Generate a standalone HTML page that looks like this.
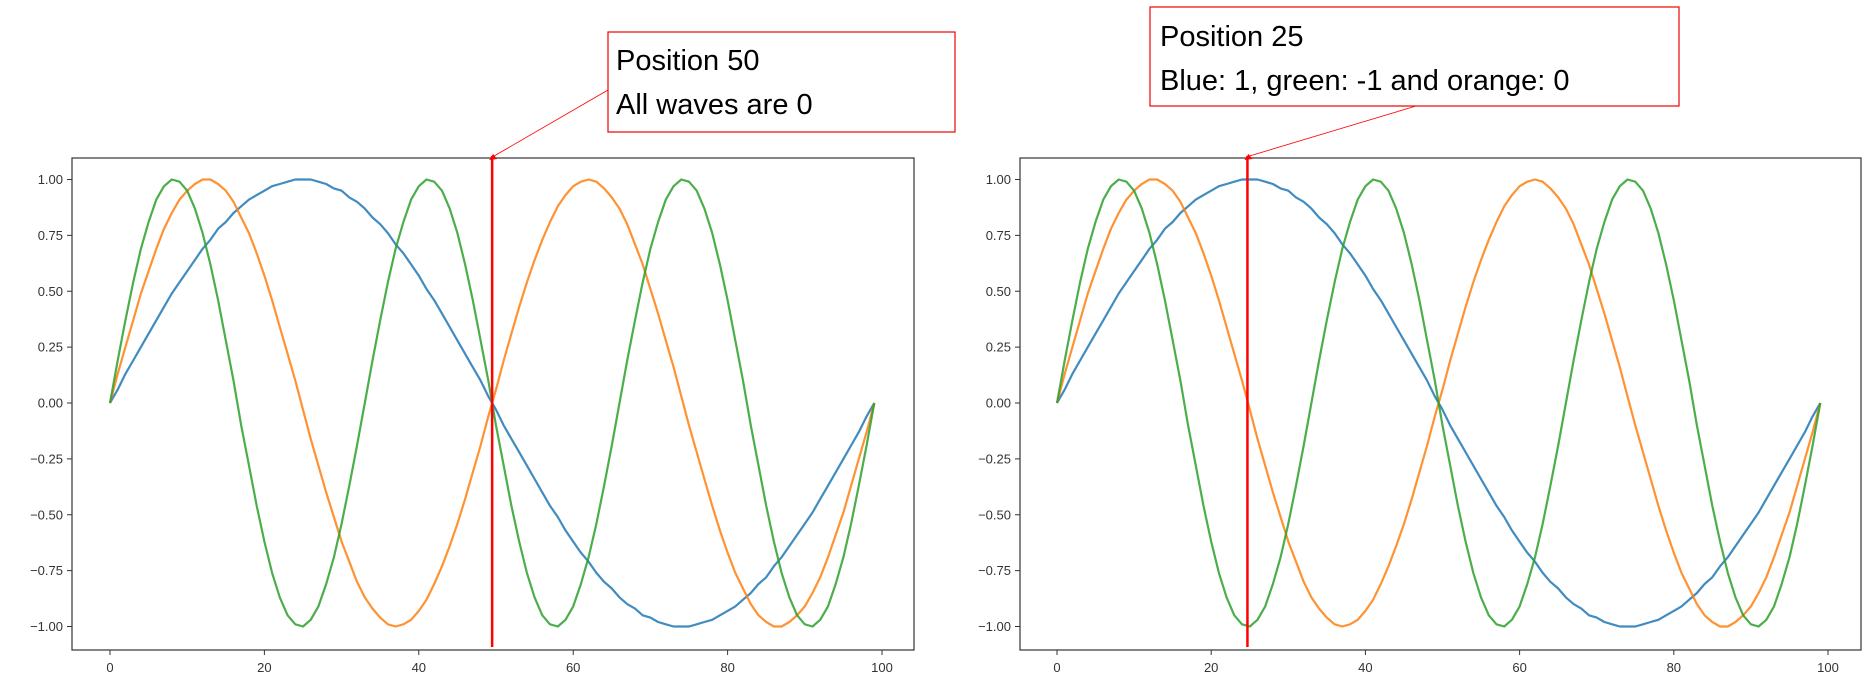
<!DOCTYPE html>
<html><head><meta charset="utf-8"><style>
body{margin:0;background:#fff;width:1872px;height:683px;overflow:hidden;font-family:"Liberation Sans",sans-serif}
svg text{font-family:"Liberation Sans",sans-serif}
</style></head><body>
<svg id="chart" width="1872" height="683" xmlns="http://www.w3.org/2000/svg"></svg>
<script>
const xTicks=[0,20,40,60,80,100];
const yTicks=[1.00,0.75,0.50,0.25,0.00,-0.25,-0.50,-0.75,-1.00];
const blue=[0,.06,.13,.19,.25,.31,.37,.43,.49,.54,.59,.64,.69,.73,.78,.81,.85,.88,.91,.93,.95,.97,.98,.99,1.0,1.0,1.0,.99,.98,.96,.95,.92,.90,.87,.83,.80,.76,.71,.67,.62,.57,.51,.46,.40,.34,.28,.22,.16,.10,.03,
-.03,-.10,-.16,-.22,-.28,-.34,-.40,-.46,-.51,-.57,-.62,-.67,-.71,-.76,-.80,-.83,-.87,-.90,-.92,-.95,-.96,-.98,-.99,-1,-1,-1,-.99,-.98,-.97,-.95,-.93,-.91,-.88,-.85,-.81,-.78,-.73,-.69,-.64,-.59,-.54,-.49,-.43,-.37,-.31,-.25,-.19,-.13,-.06,0];
const orange=[0,.13,.25,.37,.49,.59,.69,.78,.85,.91,.95,.98,1.0,1.0,.98,.95,.90,.83,.76,.67,.57,.46,.34,.22,.10,-.03,-.16,-.28,-.40,-.51,-.62,-.71,-.80,-.87,-.92,-.96,-.99,-1,-.99,-.97,-.93,-.88,-.81,-.73,-.64,-.54,-.43,-.31,-.19,-.06,
.06,.19,.31,.43,.54,.64,.73,.81,.88,.93,.97,.99,1.0,.99,.96,.92,.87,.80,.71,.62,.51,.40,.28,.16,.03,-.10,-.22,-.34,-.46,-.57,-.67,-.76,-.83,-.90,-.95,-.98,-1,-1,-.98,-.95,-.91,-.85,-.78,-.69,-.59,-.49,-.37,-.25,-.13,0];
const green=[0,.19,.37,.54,.69,.81,.91,.97,1.0,.99,.95,.87,.76,.62,.46,.28,.10,-.10,-.28,-.46,-.62,-.76,-.87,-.95,-.99,-1,-.97,-.91,-.81,-.69,-.54,-.37,-.19,
0,.19,.37,.54,.69,.81,.91,.97,1.0,.99,.95,.87,.76,.62,.46,.28,.10,-.10,-.28,-.46,-.62,-.76,-.87,-.95,-.99,-1,-.97,-.91,-.81,-.69,-.54,-.37,-.19,
0,.19,.37,.54,.69,.81,.91,.97,1.0,.99,.95,.87,.76,.62,.46,.28,.10,-.10,-.28,-.46,-.62,-.76,-.87,-.95,-.99,-1,-.97,-.91,-.81,-.69,-.54,-.37,-.19,0];
const markerPositions=[49.5,24.7];
const notes=[["Position 50","All waves are 0"],["Position 25","Blue: 1, green: -1 and orange: 0"]];

const NS="http://www.w3.org/2000/svg";
const svg=document.getElementById('chart');
function mk(tag,attrs,parent){const e=document.createElementNS(NS,tag);for(const k in attrs)e.setAttribute(k,attrs[k]);(parent||svg).appendChild(e);return e;}
const panels=[
 {L:72,R:914,T:158,B:650,x0:110,x100:882,box:[608,32,955,132],arrowFrom:[608,90],text:[[616,70],[616,114]]},
 {L:1020,R:1861,T:158,B:650,x0:1057,x100:1828,box:[1150,7,1679,106],arrowFrom:[1416,106],text:[[1160,46],[1160,90]]}
];
panels.forEach((p,pi)=>{
 const g=mk('g',{});
 
 
 const xs=v=>p.x0+(p.x100-p.x0)*v/100;
 const ys=v=>403-223.5*v;
 const frame=mk('rect',{x:p.L,y:p.T,width:p.R-p.L,height:p.B-p.T,fill:'none',stroke:'#333','stroke-width':1.2},g);
 
 
 xTicks.forEach(t=>{
  const x=xs(t);
  mk('line',{x1:x,x2:x,y1:p.B,y2:p.B+5,stroke:'#333'},g);
  const tx=mk('text',{x:x,y:p.B+22,'font-size':13,'text-anchor':'middle',fill:'#333'},g);
  tx.textContent=t;
  
  
 });
 yTicks.forEach(t=>{
  const y=ys(t);
  mk('line',{x1:p.L-5,x2:p.L,y1:y,y2:y,stroke:'#333'},g);
  const tx=mk('text',{x:p.L-9,y:y+4.5,'font-size':13,'text-anchor':'end',fill:'#333'},g);
  tx.textContent=t.toFixed(2).replace('-','\u2212');
  
  
 });
 [[blue,'#1f77b4','blue-wave'],[orange,'#ff7f0e','orange-wave'],[green,'#2ca02c','green-wave']].forEach(([arr,c,n])=>{
  const d=arr.map((v,i)=>(i?'L':'M')+xs(i).toFixed(1)+','+ys(v).toFixed(1)).join('');
  const pa=mk('path',{d:d,fill:'none',stroke:c,'stroke-width':2.2,'stroke-linejoin':'round','stroke-opacity':0.85},g);
  
  
 });
 const mx=xs(markerPositions[pi]);
 const ml=mk('line',{x1:mx,x2:mx,y1:p.T-2,y2:p.B-3,stroke:'#f00','stroke-width':2.5},g);
 
 
 const b=p.box;
 const br=mk('rect',{x:b[0],y:b[1],width:b[2]-b[0],height:b[3]-b[1],fill:'#fff',stroke:'#e00','stroke-width':1.2},g);
 
 
 const al=mk('line',{x1:p.arrowFrom[0],y1:p.arrowFrom[1],x2:mx+2,y2:p.T-2,stroke:'#f00','stroke-width':0.8},g);
 
 
 mk('polygon',{points:`${mx+1},${p.T-4} ${mx-3},${p.T+2} ${mx+5},${p.T+1}`,fill:'#f00'},g);
 notes[pi].forEach((s,li)=>{
  const t=mk('text',{x:p.text[li][0],y:p.text[li][1],'font-size':29,fill:'#000'},g);
  t.textContent=s;
  
  
 });
});
</script>
</body></html>
